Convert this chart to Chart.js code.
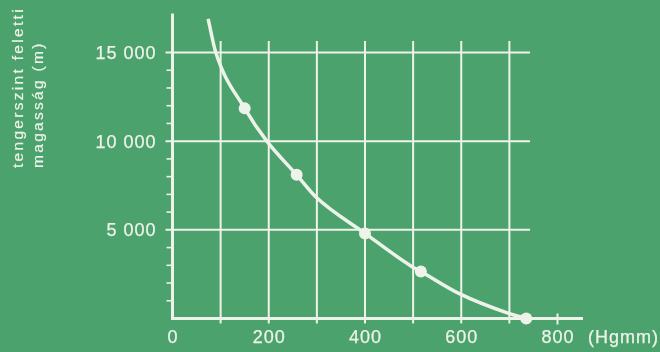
<!DOCTYPE html>
<html>
<head>
<meta charset="utf-8">
<script src="https://cdn.jsdelivr.net/npm/chart.js@4"></script>
<style>
  html, body { margin: 0; padding: 0; background: #4ba26c; }
  canvas { display: block; }
</style>
</head>
<body>
<canvas id="chart" width="660" height="352"></canvas>
<script>
// légnyomás (Hgmm) -> tengerszint feletti magasság (m)
const curveX = [74, 90, 150, 196, 258, 298, 400, 496, 516, 596, 697, 735];
const curveY = [16900, 15000, 11850, 10000, 8100, 6850, 4800, 2950, 2650, 1400, 300, 0];
const pointsX = [150, 258, 400, 516, 735];
const pointsY = [11850, 8100, 4800, 2650, 0];

const xTicks = [0, 200, 400, 600, 800];
const xGrid = [100, 200, 300, 400, 500, 600, 700];
const yTicks = [5000, 10000, 15000];
const yMinor = [1000, 2000, 3000, 4000, 6000, 7000, 8000, 9000, 11000, 12000, 13000, 14000];
const xUnit = "(Hgmm)";
const yTitle = ["tengerszint feletti", "magasság (m)"];

const INK = "#eef3ea";
const GRID_TOP = 15650;   // vertical grid lines end here
const GRID_RIGHT = 743;   // horizontal grid lines end here
const X_AXIS_END = 853;
const Y_AXIS_END = 17200;

function fmt(v) {
  return String(v).replace(/\B(?=(\d{3})+(?!\d))/g, " ");
}

// text a bit heavier, like the printed original
function label(ctx, t, px, py) {
  ctx.fillText(t, px, py);
  ctx.strokeText(t, px, py);
}

const gridPlugin = {
  id: "grid",
  beforeDatasetsDraw(chart) {
    const ctx = chart.ctx;
    const x = chart.scales.x, y = chart.scales.y;
    const ax = x.getPixelForValue(0), ay = y.getPixelForValue(0);
    ctx.save();
    ctx.strokeStyle = INK;
    ctx.lineCap = "butt";

    // grid
    ctx.lineWidth = 2;
    xGrid.forEach(v => {
      const px = x.getPixelForValue(v);
      ctx.beginPath();
      ctx.moveTo(px, y.getPixelForValue(GRID_TOP));
      ctx.lineTo(px, ay + 5);
      ctx.stroke();
    });
    yTicks.forEach(v => {
      const py = y.getPixelForValue(v);
      ctx.beginPath();
      ctx.moveTo(ax - 7, py);
      ctx.lineTo(x.getPixelForValue(GRID_RIGHT), py);
      ctx.stroke();
    });
    // small ticks
    ctx.lineWidth = 1.6;
    yMinor.forEach(v => {
      const py = y.getPixelForValue(v);
      ctx.beginPath();
      ctx.moveTo(ax - 6, py);
      ctx.lineTo(ax, py);
      ctx.stroke();
    });
    const p800 = x.getPixelForValue(800);
    ctx.lineWidth = 2;
    ctx.beginPath();
    ctx.moveTo(p800, ay - 5);
    ctx.lineTo(p800, ay + 6);
    ctx.stroke();

    // axes
    ctx.lineWidth = 3;
    ctx.beginPath();
    ctx.moveTo(ax, y.getPixelForValue(Y_AXIS_END));
    ctx.lineTo(ax, ay + 1.5);
    ctx.moveTo(ax - 1.5, ay);
    ctx.lineTo(x.getPixelForValue(X_AXIS_END), ay);
    ctx.stroke();

    // tick labels
    ctx.fillStyle = INK;
    ctx.lineWidth = 0.25;
    ctx.font = '18px "Liberation Sans", Arial, sans-serif';
    ctx.letterSpacing = "1px";
    ctx.textBaseline = "alphabetic";
    ctx.textAlign = "center";
    xTicks.forEach(v => label(ctx, String(v), x.getPixelForValue(v) + 0.5, ay + 24));
    ctx.textAlign = "left";
    label(ctx, xUnit, p800 + 30.5, ay + 24);
    ctx.textAlign = "right";
    yTicks.forEach(v => label(ctx, fmt(v), ax - 16, y.getPixelForValue(v) + 6.5));

    // y title
    ctx.font = '15.5px "Liberation Sans", Arial, sans-serif';
    ctx.letterSpacing = "2.3px";
    ctx.lineWidth = 0.2;
    ctx.textAlign = "left";
    yTitle.forEach((t, i) => {
      ctx.save();
      ctx.translate(23 + i * 20, 168);
      ctx.rotate(-Math.PI / 2);
      label(ctx, t, 0, 0);
      ctx.restore();
    });
    ctx.restore();
  }
};

new Chart(document.getElementById("chart"), {
  type: "scatter",
  data: {
    datasets: [
      {
        type: "line",
        data: curveX.map((v, i) => ({ x: v, y: curveY[i] })),
        borderColor: INK,
        borderWidth: 3.5,
        cubicInterpolationMode: "monotone",
        pointRadius: 0,
        fill: false,
        clip: false
      },
      {
        data: pointsX.map((v, i) => ({ x: v, y: pointsY[i] })),
        backgroundColor: INK,
        borderWidth: 0,
        pointRadius: 6,
        clip: false
      }
    ]
  },
  options: {
    responsive: false,
    animation: false,
    devicePixelRatio: 1,
    layout: { padding: { left: 172.5, right: 64, top: 13.5, bottom: 33.5 } },
    scales: {
      x: { type: "linear", min: 0, max: 880, display: false },
      y: { type: "linear", min: 0, max: 17200, display: false }
    },
    plugins: { legend: { display: false }, tooltip: { enabled: false } }
  },
  plugins: [gridPlugin]
});
</script>
</body>
</html>
